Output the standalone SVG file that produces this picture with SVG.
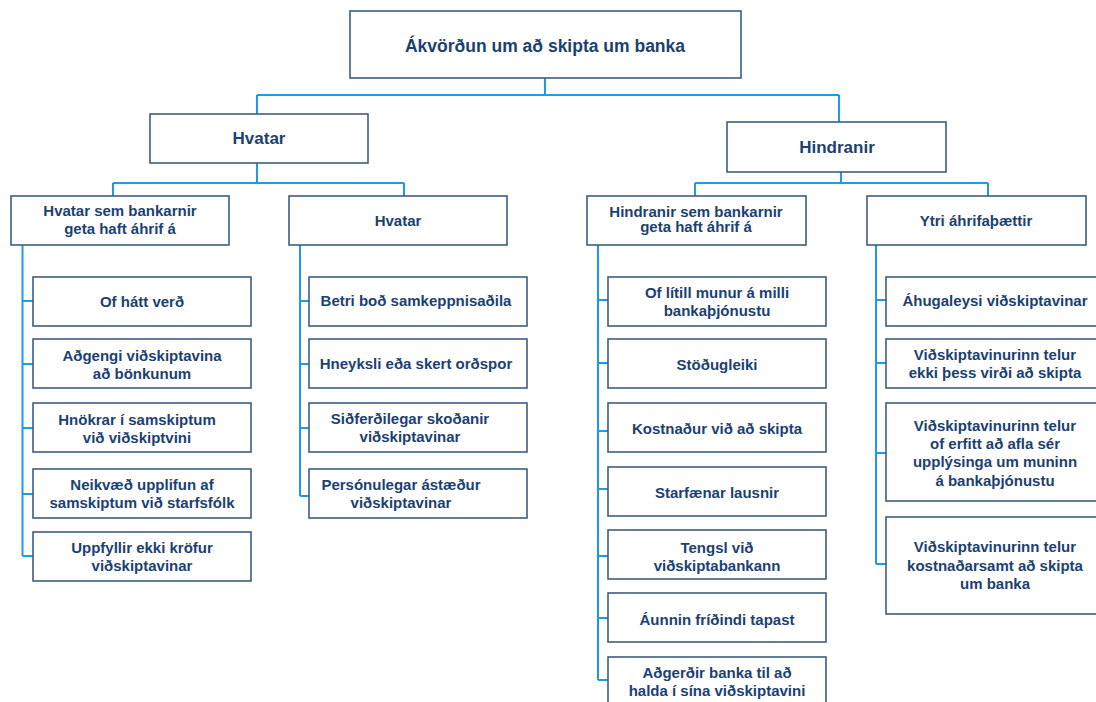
<svg xmlns="http://www.w3.org/2000/svg" width="1096" height="702" viewBox="0 0 1096 702">
<style>
.box{fill:#ffffff;stroke:#3e5d80;stroke-width:1.6}
.t{font-family:"Liberation Sans",Arial,Helvetica,sans-serif;font-weight:bold;fill:#1b4172;text-anchor:middle}
.s15{font-size:15px}
.s17{font-size:17px}
.s18{font-size:17.5px}
.c{fill:none;stroke:#1e9be6;stroke-width:2}
</style>
<rect width="1096" height="702" fill="#ffffff"/>
<g id="connectors">
<path class="c" d="M545 78V95M257 95H839M257 95V114M839 95V122"/>
<path class="c" d="M257 163V183M113 183H404M113 183V196M404 183V196"/>
<path class="c" d="M841 172V183M695 183H988M695 183V196M988 183V196"/>
<path class="c" d="M22.5 245V556M22.5 301H33M22.5 364H33M22.5 428H33M22.5 494H33M22.5 556H33"/>
<path class="c" d="M300 245V496M300 301H309M300 364H309M300 428H309M300 496H309"/>
<path class="c" d="M598 245V680M598 300H608M598 363H608M598 431H608M598 489H608M598 556H608M598 618H608M598 680H608"/>
<path class="c" d="M876 245V564M876 300H886M876 363H886M876 453H886M876 564H886"/>
</g>
<g id="root"><rect class="box" x="350" y="11" width="391" height="67"/><text class="t s18" x="545" y="52">Ákvörðun um að skipta um banka</text></g>
<g id="hvatar"><rect class="box" x="150" y="114" width="218" height="49"/><text class="t s17" x="259" y="144">Hvatar</text></g>
<g id="hindranir"><rect class="box" x="727" y="122" width="219" height="50"/><text class="t s17" x="837" y="153">Hindranir</text></g>
<g id="hvatar-banki"><rect class="box" x="11" y="196" width="218" height="49"/><text class="t s15" x="120" y="216">Hvatar sem bankarnir</text><text class="t s15" x="120" y="234">geta haft áhrif á</text></g>
<g id="hvatar-2"><rect class="box" x="289" y="196" width="218" height="49"/><text class="t s15" x="398" y="226">Hvatar</text></g>
<g id="hindranir-banki"><rect class="box" x="587" y="196" width="219" height="49"/><text class="t s15" x="696" y="217">Hindranir sem bankarnir</text><text class="t s15" x="696" y="232">geta haft áhrif á</text></g>
<g id="ytri"><rect class="box" x="867" y="196" width="219" height="49"/><text class="t s15" x="976" y="225.5">Ytri áhrifaþættir</text></g>

<g id="of-hatt-verd"><rect class="box" x="33" y="277" width="218" height="49"/><text class="t s15" x="142" y="307">Of hátt verð</text></g>
<g id="adgengi"><rect class="box" x="33" y="339" width="218" height="49"/><text class="t s15" x="142" y="361">Aðgengi viðskiptavina</text><text class="t s15" x="142" y="379">að bönkunum</text></g>
<g id="hnokrar"><rect class="box" x="33" y="403" width="218" height="49"/><text class="t s15" x="137" y="424.5">Hnökrar í samskiptum</text><text class="t s15" x="137" y="442.5">við viðskiptvini</text></g>
<g id="neikvaed"><rect class="box" x="33" y="469" width="218" height="49"/><text class="t s15" x="142" y="490">Neikvæð upplifun af</text><text class="t s15" x="142" y="508">samskiptum við starfsfólk</text></g>
<g id="uppfyllir"><rect class="box" x="33" y="532" width="218" height="49"/><text class="t s15" x="142" y="553">Uppfyllir ekki kröfur</text><text class="t s15" x="142" y="571">viðskiptavinar</text></g>

<g id="betri-bod"><rect class="box" x="309" y="277" width="218" height="49"/><text class="t s15" x="416" y="306">Betri boð samkeppnisaðila</text></g>
<g id="hneyksli"><rect class="box" x="309" y="339" width="218" height="49"/><text class="t s15" x="416" y="369">Hneyksli eða skert orðspor</text></g>
<g id="sidferdilegar"><rect class="box" x="309" y="403" width="218" height="49"/><text class="t s15" x="410" y="424">Siðferðilegar skoðanir</text><text class="t s15" x="410" y="442">viðskiptavinar</text></g>
<g id="personulegar"><rect class="box" x="309" y="469" width="218" height="49"/><text class="t s15" x="401" y="490">Persónulegar ástæður</text><text class="t s15" x="401" y="508">viðskiptavinar</text></g>

<g id="of-litill"><rect class="box" x="608" y="277" width="218" height="49"/><text class="t s15" x="717" y="298">Of lítill munur á milli</text><text class="t s15" x="717" y="316">bankaþjónustu</text></g>
<g id="stodugleiki"><rect class="box" x="608" y="339" width="218" height="49"/><text class="t s15" x="717" y="369.5">Stöðugleiki</text></g>
<g id="kostnadur"><rect class="box" x="608" y="403" width="218" height="49"/><text class="t s15" x="717" y="434">Kostnaður við að skipta</text></g>
<g id="starfaenar"><rect class="box" x="608" y="467" width="218" height="49"/><text class="t s15" x="717" y="498">Starfænar lausnir</text></g>
<g id="tengsl"><rect class="box" x="608" y="530" width="218" height="49"/><text class="t s15" x="717" y="553">Tengsl við</text><text class="t s15" x="717" y="571">viðskiptabankann</text></g>
<g id="aunnin"><rect class="box" x="608" y="593" width="218" height="49"/><text class="t s15" x="717" y="624.5">Áunnin fríðindi tapast</text></g>
<g id="adgerdir"><rect class="box" x="608" y="657" width="218" height="49"/><text class="t s15" x="717" y="677.5">Aðgerðir banka til að</text><text class="t s15" x="717" y="695.5">halda í sína viðskiptavini</text></g>

<g id="ahugaleysi"><rect class="box" x="886" y="277" width="218" height="49"/><text class="t s15" x="995" y="306">Áhugaleysi viðskiptavinar</text></g>
<g id="ekki-thess-virdi"><rect class="box" x="886" y="339" width="218" height="49"/><text class="t s15" x="995" y="360">Viðskiptavinurinn telur</text><text class="t s15" x="995" y="378">ekki þess virði að skipta</text></g>
<g id="of-erfitt"><rect class="box" x="886" y="403" width="218" height="98"/><text class="t s15" x="995" y="430.5">Viðskiptavinurinn telur</text><text class="t s15" x="995" y="449">of erfitt að afla sér</text><text class="t s15" x="995" y="467">upplýsinga um muninn</text><text class="t s15" x="995" y="485.5">á bankaþjónustu</text></g>
<g id="kostnadarsamt"><rect class="box" x="886" y="517" width="218" height="97"/><text class="t s15" x="995" y="552">Viðskiptavinurinn telur</text><text class="t s15" x="995" y="570.5">kostnaðarsamt að skipta</text><text class="t s15" x="995" y="589">um banka</text></g>
</svg>
